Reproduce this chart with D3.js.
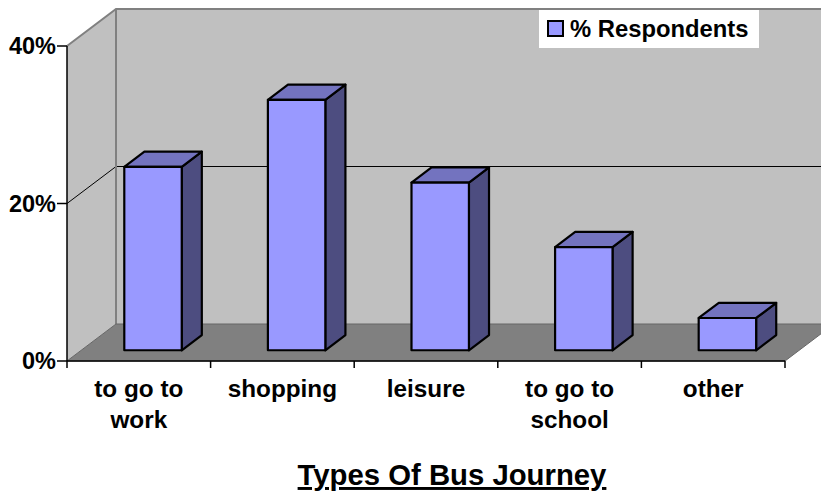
<!DOCTYPE html>
<html lang="en">
<head>
    <meta charset="UTF-8">
    <title>Types Of Bus Journey</title>
    <script src="https://d3js.org/d3.v7.min.js"></script>
    <style>
        body { margin: 0; background: #fff; }
        text { font-family: "Liberation Sans", Arial, sans-serif; font-weight: bold; fill: #000; }
    </style>
</head>
<body>
<svg width="821" height="495"></svg>
<script>
    // data
    let categories = ["to go to work", "shopping", "leisure", "to go to school", "other"];
    let respondents = [23.3, 31.8, 21.3, 13.1, 4.1];
    let yTicks = [0, 20, 40];
    let seriesName = "% Respondents";
    let chartTitle = "Types Of Bus Journey";

    let svg = d3.select("svg");

    // front plane of the 3d box
    let x = d3.scaleBand().domain(categories).range([67, 785]);
    let y = d3.scaleLinear().domain([0, 40]).range([361, 46]);

    // depth offset: d = 0 at front, 1 at back wall
    let depthX = 49, depthY = -37;
    let proj = (px, py, d) => [px + depthX * d, py + depthY * d];
    let pts = arr => arr.map(p => p.join(",")).join(" ");

    let x0 = x.range()[0], x1 = x.range()[1];
    let yTop = y(40), yBot = y(0);

    // back wall
    svg.append("polygon")
        .attr("points", pts([proj(x0, yTop, 1), proj(x1, yTop, 1), proj(x1, yBot, 1), proj(x0, yBot, 1)]))
        .attr("fill", "#c0c0c0");
    // left side wall
    svg.append("polygon")
        .attr("points", pts([[x0, yTop], proj(x0, yTop, 1), proj(x0, yBot, 1), [x0, yBot]]))
        .attr("fill", "#c0c0c0");

    // gridlines (side wall + back wall)
    yTicks.filter(t => t > 0 && t < 40).forEach(t => {
        svg.append("polyline")
            .attr("points", pts([[x0, y(t)], proj(x0, y(t), 1), proj(x1, y(t), 1)]))
            .attr("fill", "none")
            .attr("stroke", "#000")
            .attr("stroke-width", 1);
    });

    // wall edges
    svg.append("polyline")
        .attr("points", pts([[x0, yTop], proj(x0, yTop, 1), proj(x1, yTop, 1)]))
        .attr("fill", "none").attr("stroke", "#808080").attr("stroke-width", 2);
    svg.append("line")
        .attr("x1", proj(x0, yTop, 1)[0]).attr("y1", proj(x0, yTop, 1)[1])
        .attr("x2", proj(x0, yBot, 1)[0]).attr("y2", proj(x0, yBot, 1)[1])
        .attr("stroke", "#808080").attr("stroke-width", 2);

    // floor
    svg.append("polygon")
        .attr("points", pts([[x0, yBot], proj(x0, yBot, 1), proj(x1, yBot, 1), [x1, yBot]]))
        .attr("fill", "#808080")
        .attr("stroke", "#666")
        .attr("stroke-width", 1);

    // axes
    let yAxis = svg.append("g").attr("transform", "translate(" + x0 + ",0)");
    yAxis.append("line").attr("x1", 0).attr("x2", 0).attr("y1", yTop).attr("y2", yBot)
        .attr("stroke", "#000").attr("stroke-width", 1.5);
    yAxis.selectAll(".ytick")
        .data(yTicks)
        .join(enter => {
            let g = enter.append("g").classed("ytick", true);
            g.append("line").attr("x1", -10).attr("x2", 0).attr("stroke", "#000").attr("stroke-width", 1.5);
            g.append("text").attr("x", -11).attr("dy", "0.36em")
                .attr("text-anchor", "end").style("font-size", "23.5px")
                .text(d => d + "%");
            return g;
        })
        .attr("transform", d => "translate(0," + y(d) + ")");

    svg.append("line").attr("x1", x0).attr("x2", x1).attr("y1", yBot).attr("y2", yBot)
        .attr("stroke", "#000").attr("stroke-width", 1.5);
    let tickXs = categories.map(c => x(c)).concat([x1]);
    svg.selectAll(".xtick")
        .data(tickXs)
        .join("line")
        .classed("xtick", true)
        .attr("x1", d => d).attr("x2", d => d)
        .attr("y1", yBot).attr("y2", yBot + 7)
        .attr("stroke", "#000").attr("stroke-width", 1.5);

    // 3d bars
    let dFront = 0.29, dBack = 0.70;
    let barW = x.bandwidth() * 0.4;
    let bars = svg.selectAll(".bar")
        .data(categories.map((c, i) => ({ cat: c, v: respondents[i] })))
        .join("g")
        .classed("bar", true);

    bars.each(function (d) {
        let g = d3.select(this);
        let bl = x(d.cat) + (x.bandwidth() - barW) / 2, br = bl + barW;
        let yt = y(d.v), yb = y(0);
        let fTL = proj(bl, yt, dFront), fTR = proj(br, yt, dFront),
            fBR = proj(br, yb, dFront), fBL = proj(bl, yb, dFront),
            bTL = proj(bl, yt, dBack), bTR = proj(br, yt, dBack), bBR = proj(br, yb, dBack);
        g.append("polygon").attr("points", pts([fTR, bTR, bBR, fBR])).attr("fill", "#4d4d80");
        g.append("polygon").attr("points", pts([fTL, bTL, bTR, fTR])).attr("fill", "#7373bf");
        g.append("polygon").attr("points", pts([fTL, fTR, fBR, fBL])).attr("fill", "#9999ff");
        g.selectAll("polygon").attr("stroke", "#000").attr("stroke-width", 2.2)
            .attr("stroke-linejoin", "round");
    });

    // category labels, wrapped to band width
    let labels = svg.selectAll(".xlabel")
        .data(categories)
        .join("text")
        .classed("xlabel", true)
        .attr("text-anchor", "middle")
        .style("font-size", "24.3px")
        .attr("transform", d => "translate(" + (x(d) + x.bandwidth() / 2) + ",397)");

    labels.each(function (d) {
        let t = d3.select(this);
        let words = d.split(" "), line = [], lines = [];
        let probe = t.append("tspan");
        words.forEach(w => {
            line.push(w);
            probe.text(line.join(" "));
            if (probe.node().getComputedTextLength() > x.bandwidth() - 12 && line.length > 1) {
                line.pop();
                lines.push(line.join(" "));
                line = [w];
            }
        });
        lines.push(line.join(" "));
        probe.remove();
        lines.forEach((l, i) => {
            t.append("tspan").attr("x", 0).attr("y", i * 31).text(l);
        });
    });

    // legend
    let legend = svg.append("g").attr("transform", "translate(539,10)");
    legend.append("rect").attr("width", 220).attr("height", 38).attr("fill", "#fff");
    legend.append("rect").attr("x", 9).attr("y", 11).attr("width", 15).attr("height", 15)
        .attr("fill", "#9999ff").attr("stroke", "#000").attr("stroke-width", 2);
    legend.append("text").attr("x", 31).attr("y", 27).style("font-size", "23.8px").text(seriesName);

    // axis title
    svg.append("text")
        .attr("x", 452).attr("y", 485)
        .attr("text-anchor", "middle")
        .style("font-size", "29.3px")
        .style("text-decoration", "underline")
        .text(chartTitle);
</script>
</body>
</html>
